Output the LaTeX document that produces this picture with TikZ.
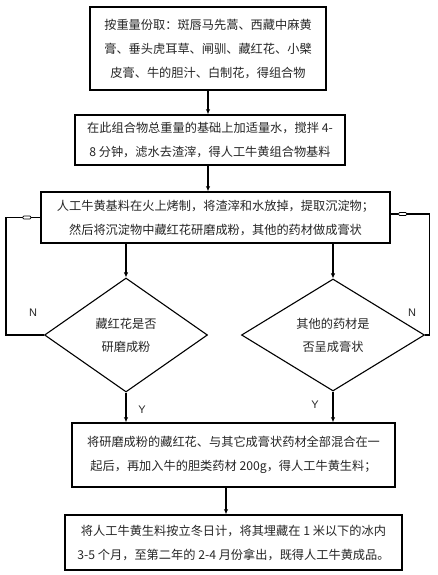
\documentclass[tikz,border=0pt]{standalone}
\usepackage{fontspec}
\setmainfont{Liberation Serif}
\newfontfamily\cjk{Noto Sans CJK SC}
\newfontfamily\lab{Liberation Sans}
\usetikzlibrary{shapes.geometric,arrows.meta,calc}
\begin{document}
\begin{tikzpicture}[x=1pt,y=-1pt,
  box/.style={draw,line width=1.4pt,inner sep=0pt,align=center,
    font=\cjk\fontsize{12.2}{24}\selectfont,text=black!85},
  dia/.style={draw,line width=1.1pt,shape=diamond,inner sep=0pt,align=center,
    font=\cjk\fontsize{12.2}{23}\selectfont,text=black!85},
  arr/.style={line width=1.1pt,-{Latex[length=5pt,width=4.5pt]}},
  lnk/.style={line width=1.1pt},
  mk/.style={draw,fill=white,line width=0.7pt,minimum width=8pt,minimum height=3pt,inner sep=0pt,rounded corners=1pt},
  yn/.style={font=\lab\fontsize{11}{13}\selectfont,text=black!85}]
\useasboundingbox (0,0) rectangle (438,575);
\fill[white] (0,0) rectangle (438,575);

\node[box,minimum width=236pt,minimum height=83pt] (b1) at (208,48.5)
  {按重量份取：斑唇马先蒿、西藏中麻黄\\膏、垂头虎耳草、闸驯、藏红花、小檗\\皮膏、牛的胆汁、白制花，得组合物};
\node[box,minimum width=270pt,minimum height=50pt] (b2) at (210,140)
  {在此组合物总重量的基础上加适量水，搅拌 4-\\8 分钟，滤水去渣滓，得人工牛黄组合物基料};
\node[box,minimum width=349pt,minimum height=51pt] (b3) at (215.5,217.5)
  {人工牛黄基料在火上烤制，将渣滓和水放掉，提取沉淀物；\\然后将沉淀物中藏红花研磨成粉，其他的药材做成膏状};
\node[dia,minimum width=163pt,minimum height=114pt] (d1) at (126,335)
  {藏红花是否\\研磨成粉};
\node[dia,minimum width=183pt,minimum height=112pt] (d2) at (333,335)
  {其他的药材是\\否呈成膏状};
\node[box,minimum width=323pt,minimum height=64pt] (b4) at (233.5,455)
  {将研磨成粉的藏红花、与其它成膏状药材全部混合在一\\起后，再加入牛的胆类药材 200g，得人工牛黄生料；};
\node[box,minimum width=337pt,minimum height=55pt] (b5) at (233.5,542.5)
  {将人工牛黄生料按立冬日计，将其埋藏在 1 米以下的冰内\\3-5 个月，至第二年的 2-4 月份拿出，既得人工牛黄成品。};

\coordinate (c12) at (208,0);
\coordinate (c45) at (226,0);

\draw[arr] (b1.south -| c12) -- (b2.north -| c12);
\draw[arr] (b2.south -| c12) -- (b3.north -| c12);
\draw[arr] (b3.south -| d1.north) -- (d1.north);
\draw[arr] (b3.south -| d2.north) -- (d2.north);
\draw[arr] (d1.south) -- (d1.south |- b4.north);
\draw[arr] (d2.south) -- (d2.south |- b4.north);
\draw[arr] (b4.south -| c45) -- (b5.north -| c45);

\draw[lnk] (d1.west) -- ++(-38,0) |- (b3.west);
\draw[lnk] (d2.east) -- ++(4,0) |- ([yshift=3.5pt]b3.east);
\node[mk] (m1) at ($(b3.west)+(-13.5,0)$) {};
\node[mk] (m2) at ($(b3.east)+(12,-3.5)$) {};

\node[yn] (n1) at (33,313) {N};
\node[yn] (n2) at (412,313) {N};
\node[yn] (y1) at (142,410) {Y};
\node[yn] (y2) at (315,405) {Y};
\end{tikzpicture}
\end{document}
